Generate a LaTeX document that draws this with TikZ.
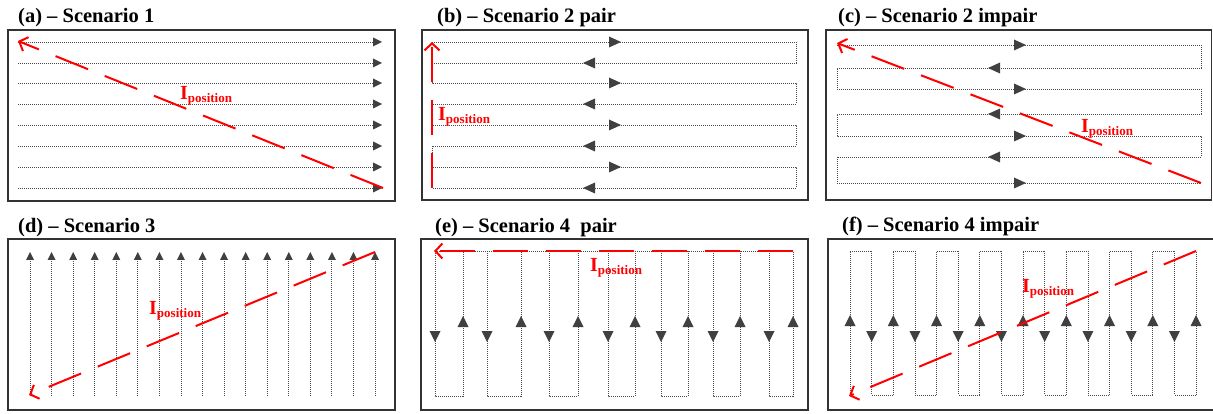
\documentclass[tikz,border=0pt]{standalone}
\usepackage{fontspec}
\setmainfont{Liberation Serif}
\usetikzlibrary{arrows.meta}
\definecolor{tricol}{HTML}{404040}
\definecolor{dotcol}{HTML}{4A4A4A}
\definecolor{boxcol}{HTML}{333333}
\definecolor{posred}{HTML}{FF0000}
\newcommand\tl{9}
\newcommand\tw{4.5}
\newcommand\Ipos{I{\fontsize{13}{13}\selectfont\raisebox{-3pt}{position}}}
\tikzset{
  panelbox/.style={draw=boxcol,line width=1.2pt},
  dotline/.style={draw=dotcol,line width=0.8pt,dash pattern=on 1pt off 1pt},
  redpath/.style={draw=posred,line width=2pt,dash pattern=on 35pt off 18pt,-{Straight Barb[length=7pt,width=15pt]}},
  titletext/.style={anchor=base west,inner sep=0pt,font=\fontsize{20.5}{24}\selectfont\bfseries},
  poslabel/.style={anchor=base west,inner sep=0pt,text=posred,font=\fontsize{20}{20}\selectfont\bfseries},
  tri/.pic={\fill[tricol] (0,0) -- (-\tl,-\tw) -- (-\tl,\tw) -- cycle;},
}
\begin{document}
\begin{tikzpicture}[x=1pt,y=-1pt]
\fill[white] (0,0) rectangle (1213,414);
\useasboundingbox (0,0) rectangle (1213,414);

% ---------- titles ----------
\node[titletext] (ta) at (18,23) {(a) – Scenario 1};
\node[titletext] (tb) at (437,23) {(b) – Scenario 2 pair};
\node[titletext] (tc) at (838,23) {(c) – Scenario 2 impair};
\node[titletext] (td) at (18,233) {(d) – Scenario 3};
\node[titletext] (te) at (435,233) {(e) – Scenario 4\ \ pair};
\node[titletext] (tf) at (842,232) {(f) – Scenario 4 impair};

% ---------- boxes ----------
\draw[panelbox] (8,30) rectangle (395,201);
\draw[panelbox] (422,30) rectangle (808,200);
\draw[panelbox] (826,30) rectangle (1211.5,200);
\draw[panelbox] (8,239) rectangle (395,410);
\draw[panelbox] (421,239) rectangle (808,410);
\draw[panelbox] (828,239) rectangle (1215,410);

% ---------- (a) ----------
\begin{scope}
\renewcommand\tl{9}\renewcommand\tw{4.5}
\foreach \y in {42,63,83,104,125,146,167,188}{
  \draw[dotline] (18,\y) -- (374,\y);
  \pic at (382,\y) {tri};
}
\coordinate (a1) at (383,188);
\coordinate (a2) at (18,41);
\draw[redpath] (a1) -- (a2);
\node[poslabel] (la) at (180,100) {\Ipos};
\end{scope}

% ---------- (b) ----------
\begin{scope}
\renewcommand\tl{12}\renewcommand\tw{5.5}
\draw[dotline] (432,42) -- (796,42) -- (796,63) -- (432,63) -- (432,83) -- (796,83) -- (796,104) -- (432,104)
  -- (432,125) -- (796,125) -- (796,146) -- (432,146) -- (432,167) -- (796,167) -- (796,188) -- (432,188);
\foreach \y in {42,83,125,167}{\pic at (621,\y) {tri};}
\foreach \y in {63,104,146,188}{\pic[rotate=180] at (583,\y) {tri};}
\coordinate (b1) at (432,188);
\coordinate (b2) at (432,42);
\draw[redpath] (b1) -- (b2);
\node[poslabel] (lb) at (438,121) {\Ipos};
\end{scope}

% ---------- (c) ----------
\begin{scope}
\renewcommand\tl{12}\renewcommand\tw{5.5}
\draw[dotline] (837,45) -- (1201,45) -- (1201,68) -- (837,68) -- (837,89) -- (1201,89) -- (1201,114) -- (837,114)
  -- (837,136) -- (1201,136) -- (1201,157) -- (837,157) -- (837,183) -- (1201,183);
\foreach \y in {45,89,136,183}{\pic at (1026,\y) {tri};}
\foreach \y in {68,114,157}{\pic[rotate=180] at (988,\y) {tri};}
\coordinate (c1) at (1201,183);
\coordinate (c2) at (837,43);
\draw[redpath] (c1) -- (c2);
\node[poslabel] (lc) at (1081,133) {\Ipos};
\end{scope}

% ---------- (d) ----------
\begin{scope}
\renewcommand\tl{8}\renewcommand\tw{4}
\foreach \i in {0,...,16}{
  \pgfmathsetmacro\xx{30+21.5625*\i}
  \draw[dotline] (\xx,396) -- (\xx,259);
  \pic[rotate=90] at (\xx,252) {tri};
}
\coordinate (d1) at (375,252);
\coordinate (d2) at (29,395);
\draw[redpath] (d1) -- (d2);
\node[poslabel] (ld) at (149,314) {\Ipos};
\end{scope}

% ---------- (e) ----------
\begin{scope}
\renewcommand\tl{11}\renewcommand\tw{5.5}
\draw[dotline] (435,251) -- (793,251);
\foreach \d/\u in {435/463,487/521,549/578,608/635,661/688,713/740,769/793}{
  \draw[dotline] (\d,251) -- (\d,396) -- (\u,396) -- (\u,251);
  \pic[rotate=-90] at (\d,342) {tri};
  \pic[rotate=90] at (\u,316) {tri};
}
\coordinate (e1) at (793,251);
\coordinate (e2) at (434,251);
\draw[redpath] (e1) -- (e2);
\node[poslabel] (le) at (590,271) {\Ipos};
\end{scope}

% ---------- (f) ----------
\begin{scope}
\renewcommand\tl{11}\renewcommand\tw{5.5}
\foreach \i in {0,2,...,14}{
  \pgfmathsetmacro\xa{850+21.63*\i}
  \pgfmathsetmacro\xb{\xa+21.63}
  \pgfmathsetmacro\xc{\xb+21.63}
  \draw[dotline] (\xa,395) -- (\xa,251) -- (\xb,251) -- (\xb,395) -- (\xc,395);
}
\draw[dotline] (1196.1,395) -- (1196.1,251);
\foreach \i in {0,2,...,16}{
  \pgfmathsetmacro\xx{850+21.63*\i}
  \pic[rotate=90] at (\xx,315) {tri};
}
\foreach \i in {1,3,...,15}{
  \pgfmathsetmacro\xx{850+21.63*\i}
  \pic[rotate=-90] at (\xx,342) {tri};
}
\coordinate (f1) at (1196,251);
\coordinate (f2) at (849,396);
\draw[redpath] (f1) -- (f2);
\node[poslabel] (lf) at (1022,292) {\Ipos};
\end{scope}
\end{tikzpicture}
\end{document}
